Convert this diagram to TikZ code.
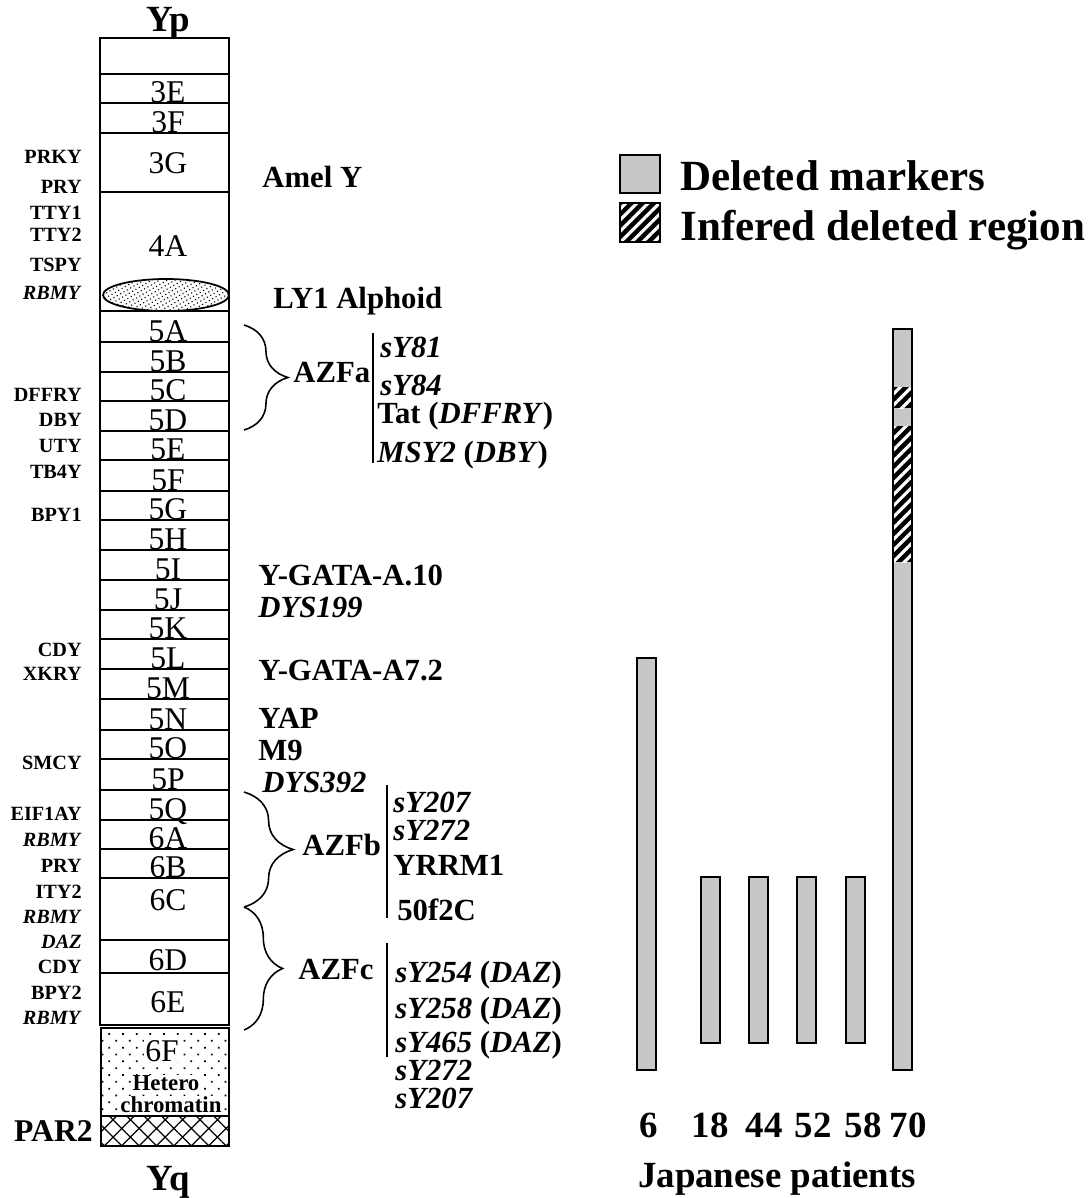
\documentclass[tikz,border=0pt]{standalone}
\usepackage{fontspec}
\setmainfont{Liberation Serif}
\usetikzlibrary{decorations.pathreplacing,patterns.meta}
\newcommand\fsz[1]{\fontsize{#1}{#1}\selectfont}

\begin{document}
\begin{tikzpicture}[x=0.02cm, y=-0.02cm,
  band/.style={draw, line width=1pt},
  bandlbl/.style={anchor=base, inner sep=0pt, text depth=0pt, font=\fsz{18pt}},
  gene/.style={anchor=east, inner sep=0pt, text height=7.6pt, text depth=0pt,
    font=\bfseries\fsz{11.5pt}},
  marker/.style={anchor=west, inner sep=0pt, text height=11.6pt, text depth=0pt,
    font=\bfseries\fsz{17.5pt}},
  pid/.style={inner sep=0pt, text height=14pt, text depth=0pt,
    font=\bfseries\fsz{21pt}},
  legend/.style={anchor=west, inner sep=0pt, text height=16.2pt, text depth=0pt,
    font=\bfseries\fsz{24.5pt}},
  brc/.style={decorate, decoration={brace, amplitude=#1}, line width=0.9pt},
  sep/.style={line width=1pt},
  bar/.style={draw, line width=1pt, fill=black!22},
  stripes/.style={preaction={fill=black},
    pattern={Lines[angle=45, distance=4.5pt, line width=1.8pt]}, pattern color=white},
]
  \useasboundingbox (0,0) rectangle (1091,1198);

  % chromosome column
  \node[pid] (yp) at (168,19) {Yp};
  \draw[band] (100,38) rectangle (229,74);
  \foreach \t/\b/\l/\base in {74/103/3E/102, 103/133/3F/132, 133/192/3G/173,
      192/311/4A/256, 311/342/5A/341, 342/372/5B/371, 372/401/5C/400,
      401/431/5D/430, 431/460/5E/459, 460/491/5F/490, 491/520/5G/519,
      520/550/5H/549, 550/580/5I/579, 580/610/5J/609, 610/639/5K/638,
      639/669/5L/668, 669/699/5M/698, 699/730/5N/729, 730/759/5O/758,
      759/790/5P/789, 790/820/5Q/819, 820/849/6A/848, 849/878/6B/877,
      878/940/6C/910, 940/973/6D/970, 973/1025/6E/1012} {
    \draw[band] (100,\t) rectangle (229,\b);
    \node[bandlbl] (b\l) at (168,\base) {\l};
  }
  \draw[line width=1pt, preaction={fill=white},
    pattern={Dots[distance=2.2pt, radius=0.45pt, angle=30]}]
    (166,295) ellipse [x radius=63, y radius=16];
  \draw[band, pattern={Dots[distance=5.5pt, radius=0.7pt, angle=45]}]
    (101,1028) rectangle (229,1116);
  \draw[band, pattern={Hatch[angle=45, distance=7pt, line width=0.7pt]}]
    (101,1116) rectangle (229,1146);
  \node[bandlbl, fill=white, inner sep=0.5pt] (b6F) at (162,1061) {6F};
  \node[inner sep=0.5pt, fill=white, font=\bfseries\fsz{13pt}] (het1) at (166,1083) {Hetero};
  \node[inner sep=0.5pt, fill=white, font=\bfseries\fsz{13pt}] (het2) at (171,1105) {chromatin};
  \node[gene, font=\bfseries\fsz{18pt}, text height=12pt] (par2) at (93,1131) {PAR2};
  \node[pid] (yq) at (168,1178) {Yq};

  % genes on the left
  \foreach \y/\g in {157/PRKY, 187/PRY, 213/TTY1, 235/TTY2, 265/TSPY,
      293/\textit{RBMY}, 395/DFFRY, 420/DBY, 446/UTY, 472/TB4Y, 515/BPY1,
      650/CDY, 674/XKRY, 763/SMCY, 814/EIF1AY, 840/\textit{RBMY}, 866/PRY,
      892/ITY2, 917/\textit{RBMY}, 942/\textit{DAZ}, 967/CDY, 993/BPY2,
      1018/\textit{RBMY}}
    \node[gene] (g\y) at (82,\y) {\g};

  % markers on the right
  \foreach \x/\y/\m in {262/177/{Amel Y}, 273/298/{LY1 Alphoid},
      258/575/{Y-GATA-A.10}, 258/607/{\textit{DYS199}}, 258/670/{Y-GATA-A7.2},
      258/718/{YAP}, 258/750/{M9}, 262/782/{\textit{DYS392}}}
    \node[marker] (m\y) at (\x,\y) {\m};

  % AZF regions
  \coordinate (azfa-t) at (244,325);
  \coordinate (azfa-b) at (244,430);
  \coordinate (azfb-t) at (244,792);
  \coordinate (azfb-b) at (244,907);
  \coordinate (azfc-t) at (244,907);
  \coordinate (azfc-b) at (244,1030);
  \draw[brc=25pt] (azfa-t) -- (azfa-b);
  \draw[brc=28pt] (azfb-t) -- (azfb-b);
  \draw[brc=22pt] (azfc-t) -- (azfc-b);
  \node[marker] (azfa) at (293,372) {AZFa};
  \node[marker] (azfb) at (302,845) {AZFb};
  \node[marker] (azfc) at (298,969) {AZFc};

  \coordinate (sa-t) at (373,333);
  \coordinate (sa-b) at (373,463);
  \coordinate (sb-t) at (387,785);
  \coordinate (sb-b) at (387,918);
  \coordinate (sc-t) at (387,943);
  \coordinate (sc-b) at (387,1057);
  \draw[sep] (sa-t) -- (sa-b);
  \draw[sep] (sb-t) -- (sb-b);
  \draw[sep] (sc-t) -- (sc-b);

  \foreach \x/\y/\m in {380/347/{\textit{sY81}}, 380/385/{\textit{sY84}},
      377/413/{Tat (\textit{DFFRY})}, 377/452/{\textit{MSY2} (\textit{DBY})},
      393/802/{\textit{sY207}}, 393/830/{\textit{sY272}}, 393/865/{YRRM1},
      397/910/{50f2C},
      395/972/{\textit{sY254} (\textit{DAZ})}, 395/1008/{\textit{sY258} (\textit{DAZ})},
      395/1042/{\textit{sY465} (\textit{DAZ})}, 395/1070/{\textit{sY272}},
      395/1098/{\textit{sY207}}}
    \node[marker] (s\y) at (\x,\y) {\m};

  % legend
  \draw[bar] (620,155) rectangle (660,193);
  \path[stripes] (620,203) rectangle (660,242);
  \draw[line width=1pt] (620,203) rectangle (660,242);
  \node[legend] (leg1) at (680,176) {Deleted markers};
  \node[legend] (leg2) at (680,226) {Infered deleted region};

  % patients
  \foreach \pid/\x/\t/\b/\lx in {6/637/658/1070/649, 18/701/877/1043/710,
      44/749/877/1043/764, 52/797/877/1043/813, 58/846/877/1043/863,
      70/893/329/1070/908} {
    \draw[bar] (\x,\t) rectangle (\x+19,\b);
    \node[pid] (p\pid) at (\lx,1125) {\pid};
  }
  \path[stripes] (893,387) rectangle (912,408);
  \path[stripes] (893,426) rectangle (912,562);
  \draw[line width=1pt] (893,329) rectangle (912,1070);
  \node[pid] (jp) at (777,1175) {Japanese patients};
\end{tikzpicture}
\end{document}
